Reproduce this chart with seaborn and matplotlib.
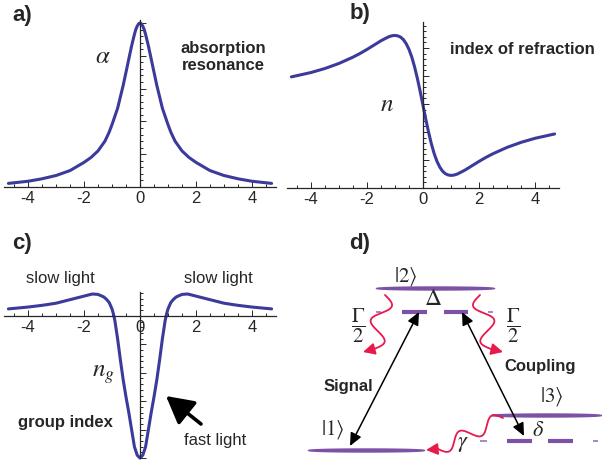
import numpy as np
import matplotlib
matplotlib.use("Agg")
import matplotlib.pyplot as plt
from matplotlib.ticker import MultipleLocator
import seaborn as sns

# curve values
freq_a = [-4.7, -4, -3.5, -3, -2.5, -2, -1.75, -1.5, -1.25, -1.1, -1, -0.9, -0.8, -0.7, -0.6, -0.5, -0.4, -0.3,
          -0.2, -0.15, -0.1, -0.05, 0,
          0.05, 0.1, 0.15, 0.2, 0.3, 0.4, 0.5, 0.6, 0.7, 0.8, 0.9, 1, 1.1, 1.25, 1.5, 1.75, 2, 2.5, 3, 3.5, 4, 4.7]
alpha_vals = [0.022, 0.035, 0.05, 0.07, 0.10, 0.15, 0.18, 0.22, 0.28, 0.335, 0.38, 0.43, 0.48, 0.55, 0.62, 0.70, 0.78, 0.86,
              0.93, 0.96, 0.98, 0.995, 1.0,
              0.995, 0.98, 0.96, 0.93, 0.86, 0.78, 0.70, 0.62, 0.55, 0.48, 0.43, 0.38, 0.335, 0.28, 0.22, 0.18, 0.15,
              0.10, 0.07, 0.05, 0.035, 0.022]

freq_b = [-4.7, -4, -3.5, -3, -2.5, -2.25, -2, -1.75, -1.5, -1.25, -1.2, -1.1, -1, -0.9, -0.8, -0.7, -0.6, -0.5,
          -0.4, -0.3, -0.2, -0.1, 0,
          0.1, 0.2, 0.3, 0.4, 0.5, 0.6, 0.7, 0.8, 0.9, 1, 1.1, 1.2, 1.25, 1.5, 1.75, 2, 2.25, 2.5, 3, 3.5, 4, 4.7]
n_vals = [0.794, 0.825, 0.854, 0.89, 0.935, 0.961, 0.99, 1.021, 1.052, 1.078, 1.082, 1.088, 1.09, 1.087, 1.078,
          1.06, 1.031, 0.99, 0.935, 0.865, 0.782, 0.689, 0.59,
          0.491, 0.398, 0.315, 0.245, 0.19, 0.149, 0.12, 0.102, 0.093, 0.09, 0.092, 0.098, 0.102, 0.128, 0.159,
          0.19, 0.219, 0.245, 0.29, 0.326, 0.355, 0.386]

freq_c = [-4.7, -4, -3.5, -3, -2.5, -2, -1.7, -1.5, -1.3, -1.2, -1.1, -1, -0.95, -0.9, -0.8, -0.7, -0.6, -0.5, -0.4,
          -0.3, -0.2, -0.1, 0,
          0.1, 0.2, 0.3, 0.4, 0.5, 0.6, 0.7, 0.8, 0.9, 0.95, 1, 1.1, 1.2, 1.3, 1.5, 1.7, 2, 2.5, 3, 3.5, 4, 4.7]
ng_vals = [0.05, 0.063, 0.075, 0.09, 0.115, 0.14, 0.155, 0.152, 0.135, 0.118, 0.095, 0.05, 0.015, -0.03, -0.16,
           -0.31, -0.45, -0.57, -0.68, -0.80, -0.92, -0.98, -1.0,
           -0.98, -0.92, -0.80, -0.68, -0.57, -0.45, -0.31, -0.16, -0.03, 0.015, 0.05, 0.095, 0.118, 0.135, 0.152,
           0.155, 0.14, 0.115, 0.09, 0.075, 0.063, 0.05]

xtick_vals = [-4, -2, 0, 2, 4]
xtick_labels = ["-4", "-2", "0", "2", "4"]

# level scheme (pixel coordinates of the sketch)
levels = {"2": (375, 495, 288), "1": (307, 425, 450), "3": (490, 602, 415)}
virtual_upper = {"y": 312, "thick": [(402, 427), (444, 468)], "thin": [(376, 381), (488, 493)]}
virtual_lower = {"y": 441, "thick": [(507, 532), (548, 573)], "thin": [(480, 487), (593, 598)]}

blue = "#3b3b9b"
purple = "#7b52a6"
red = "#e8194b"

sns.set_style("ticks")
plt.rcParams["font.family"] = ["Liberation Sans", "DejaVu Sans"]
plt.rcParams["mathtext.fontset"] = "stix"
plt.rcParams["axes.unicode_minus"] = False

W, H = 602, 466
fig = plt.figure(figsize=(W / 100, H / 100), dpi=100)


def make_axes(x0, ybot, ytop, ylim):
    ax = fig.add_axes([(x0 - 4.85 * 28) / W, 1 - ybot / H, 9.7 * 28 / W, (ybot - ytop) / H])
    ax.set_xlim(-4.85, 4.85)
    ax.set_ylim(*ylim)
    ax.patch.set_alpha(0)
    for s in ["top", "right"]:
        ax.spines[s].set_visible(False)
    ax.spines["left"].set_position(("data", 0))
    ax.spines["bottom"].set_position(("data", 0))
    for s in ["left", "bottom"]:
        ax.spines[s].set_linewidth(0.9)
    ax.set_xticks(xtick_vals)
    ax.set_xticklabels(xtick_labels)
    ax.xaxis.set_minor_locator(MultipleLocator(0.5))
    ax.yaxis.set_major_locator(MultipleLocator(0.2))
    ax.yaxis.set_minor_locator(MultipleLocator(0.04))
    ax.set_yticklabels([])
    ax.tick_params(which="both", direction="in", width=0.7, labelsize=12, pad=3)
    ax.tick_params(which="major", length=4.5)
    ax.tick_params(which="minor", length=2.5)
    ax.tick_params(axis="y", which="both", left=True, labelleft=False)
    return ax


ax_a = make_axes(140, 187, 20, (0, 1.018))
sns.lineplot(x=freq_a, y=alpha_vals, ax=ax_a, color=blue, linewidth=2.2)

ax_b = make_axes(423, 188, 22, (0, 1.186))
sns.lineplot(x=freq_b, y=n_vals, ax=ax_b, color=blue, linewidth=2.2)

ax_c = make_axes(140, 458, 292, (-1.0, 0.169))
sns.lineplot(x=freq_c, y=ng_vals, ax=ax_c, color=blue, linewidth=2.2)
ax_c.lines[-1].set_clip_on(False)

for ax in [ax_a, ax_b, ax_c]:
    ax.set_xlabel("")
    ax.set_ylabel("")

# overlay in pixel coordinates for labels and the level scheme
ov = fig.add_axes([0, 0, 1, 1])
ov.set_xlim(0, W)
ov.set_ylim(H, 0)
ov.axis("off")
ov.patch.set_alpha(0)

for lab, (x, y) in {"a)": (22, 15), "b)": (360, 14), "c)": (22, 244), "d)": (360, 244)}.items():
    ov.text(x, y, lab, fontsize=16, fontweight="bold", ha="center", va="center")

ov.text(103, 56, r"$\alpha$", fontsize=18, ha="center", va="center")
ov.text(223, 57, "absorption\nresonance", fontsize=12, fontweight="bold", ha="center", va="center",
        linespacing=1.15)
ov.text(450, 50, "index of refraction", fontsize=12, fontweight="bold", ha="left", va="center")
ov.text(387, 104, r"$n$", fontsize=18, ha="center", va="center")
ov.text(60, 278, "slow light", fontsize=12, ha="center", va="center")
ov.text(218, 278, "slow light", fontsize=12, ha="center", va="center")
ov.text(103, 374, r"$n_g$", fontsize=18, ha="center", va="center")
ov.text(65, 423, "group index", fontsize=12, fontweight="bold", ha="center", va="center")
ov.text(215, 440, "fast light", fontsize=12, ha="center", va="center")
ov.annotate("", xy=(166, 396), xytext=(201, 424),
            arrowprops=dict(arrowstyle="-|>,head_length=0.55,head_width=0.3", color="black", lw=2.6,
                            mutation_scale=30, shrinkA=0, shrinkB=0))


def level_line(x0, x1, y, half):
    xs = np.linspace(x0, x1, 120)
    h = half * np.sqrt(np.clip(1 - ((xs - (x0 + x1) / 2) / ((x1 - x0) / 2)) ** 2, 0, 1)) ** 0.6
    ov.fill_between(xs, y - h, y + h, color=purple, lw=0)


for x0, x1, y in levels.values():
    level_line(x0, x1, y, 2.2)

for vl in [virtual_upper, virtual_lower]:
    for x0, x1 in vl["thick"]:
        ov.plot([x0, x1], [vl["y"], vl["y"]], color=purple, lw=3, solid_capstyle="butt")
    for x0, x1 in vl["thin"]:
        ov.plot([x0, x1], [vl["y"], vl["y"]], color=purple, lw=1.2, alpha=0.8, solid_capstyle="butt")


def wavy(p0, p1, amp, periods, tip):
    p0 = np.array(p0, float)
    p1 = np.array(p1, float)
    d = p1 - p0
    u = d / np.linalg.norm(d)
    nv = np.array([-u[1], u[0]])
    t = np.linspace(0, 1, 200)
    off = amp * np.sin(2 * np.pi * periods * t)
    pts = p0 + t[:, None] * d + off[:, None] * nv
    ov.plot(pts[:, 0], pts[:, 1], color=red, lw=1.3)
    ov.annotate("", xy=tip, xytext=(pts[-1, 0], pts[-1, 1]),
                arrowprops=dict(arrowstyle="-|>,head_length=0.5,head_width=0.25", color=red, lw=1.3,
                                mutation_scale=14, shrinkA=0, shrinkB=0))


wavy((385, 295), (374, 349), -9, 1.5, (363, 352))
wavy((480, 295), (491, 349), 9, 1.5, (503, 352))
wavy((503, 418), (438, 449), 7, 2.0, (426, 450))

arrow_kw = dict(arrowstyle="<|-|>,head_length=0.55,head_width=0.25", color="black", lw=1.1,
                mutation_scale=14, shrinkA=0, shrinkB=0)
ov.annotate("", xy=(350, 446), xytext=(419, 312), arrowprops=arrow_kw)
ov.annotate("", xy=(524, 436), xytext=(462, 312), arrowprops=arrow_kw)

ov.text(406, 277, r"$|2\rangle$", fontsize=15, ha="center", va="center")
ov.text(333, 430, r"$|1\rangle$", fontsize=15, ha="center", va="center")
ov.text(552, 397, r"$|3\rangle$", fontsize=15, ha="center", va="center")
ov.text(433, 299, r"$\Delta$", fontsize=17, ha="center", va="center")
ov.text(538, 431, r"$\delta$", fontsize=16, ha="center", va="center")
ov.text(463, 443, r"$\gamma$", fontsize=16, ha="center", va="center")
ov.text(358, 326, r"$\dfrac{\Gamma}{2}$", fontsize=15, ha="center", va="center")
ov.text(513, 326, r"$\dfrac{\Gamma}{2}$", fontsize=15, ha="center", va="center")
ov.text(348, 386, "Signal", fontsize=12, fontweight="bold", ha="center", va="center")
ov.text(540, 366, "Coupling", fontsize=12, fontweight="bold", ha="center", va="center")

fig.savefig("out.png", dpi=100)
